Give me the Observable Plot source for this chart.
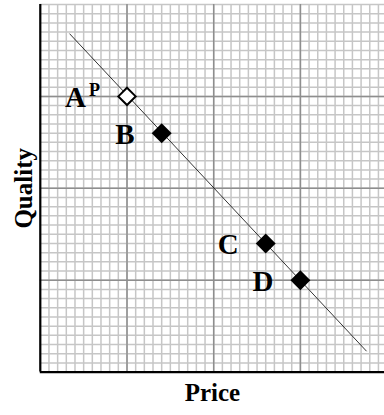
<!DOCTYPE html>
<html>
<head>
<meta charset="utf-8">
<script src="https://cdn.jsdelivr.net/npm/d3@7"></script>
<script src="https://cdn.jsdelivr.net/npm/@observablehq/plot@0.6"></script>
<style>
  html, body { margin: 0; padding: 0; background: #fff; }
  #chart svg { display: block; }
</style>
</head>
<body>
<div id="chart"></div>
<script>
// Data
const labels = ["A", "B", "C", "D"];
const superscripts = ["P", "", "", ""];
const price = [1.0, 1.4, 2.6, 3.0];
const quality = [3.0, 2.6, 1.4, 1.0];
const filled = [false, true, true, true];
const lineX = [0.34, 3.76];
const lineY = [3.68, 0.23];
const majorTicks = [0, 1, 2, 3, 4];
const xLabel = "Price";
const yLabel = "Quality";

const points = labels.map((l, i) => ({label: l, sup: superscripts[i], x: price[i], y: quality[i], filled: filled[i]}));
const lineData = lineX.map((x, i) => ({x, y: lineY[i]}));
const minorX = d3.range(0, 40).map(i => i / 10);
const minorY = d3.range(0, 41).map(i => i / 10);

const font = "Liberation Serif, Times New Roman, serif";
const withSup = points.filter(d => d.sup);
const noSup = points.filter(d => !d.sup);

const chart = Plot.plot({
  width: 384,
  height: 415,
  marginLeft: 39.8,
  marginRight: 0,
  marginTop: 4,
  marginBottom: 43.4,
  x: {domain: [0, 3.97], axis: null},
  y: {domain: [0, 4], axis: null},
  style: {fontFamily: font, background: "#fff"},
  marks: [
    Plot.ruleX(minorX, {stroke: "#c6c6c6", strokeWidth: 1.5}),
    Plot.ruleY(minorY, {stroke: "#c6c6c6", strokeWidth: 1.5}),
    Plot.ruleX(majorTicks.filter(d => d > 0 && d < 3.97), {stroke: "#8e8e8e", strokeWidth: 1.5}),
    Plot.ruleY(majorTicks.filter(d => d > 0 && d < 4), {stroke: "#8e8e8e", strokeWidth: 1.5}),
    Plot.ruleX([0], {stroke: "#000", strokeWidth: 2.2}),
    Plot.ruleY([0], {stroke: "#000", strokeWidth: 2.2}),
    Plot.line(lineData, {x: "x", y: "y", stroke: "#000", strokeWidth: 0.8}),
    Plot.dot(points.filter(d => !d.filled), {x: "x", y: "y", symbol: "diamond2", r: 7.8, fill: "#fff", stroke: "#000", strokeWidth: 2}),
    Plot.dot(points.filter(d => d.filled), {x: "x", y: "y", symbol: "diamond2", r: 9, fill: "#000", stroke: "none"}),
    Plot.text(noSup, {x: "x", y: "y", text: "label", textAnchor: "end", lineAnchor: "middle",
      dx: -27, dy: 1.2, fontSize: 29, fontWeight: "bold", fill: "#000"}),
    Plot.text(withSup, {x: "x", y: "y", text: "label", textAnchor: "end", lineAnchor: "middle",
      dx: -41, dy: 1.3, fontSize: 29, fontWeight: "bold", fill: "#000"}),
    Plot.text(withSup, {x: "x", y: "y", text: "sup", textAnchor: "end", lineAnchor: "middle",
      dx: -27, dy: -5.8, fontSize: 18, fontWeight: "bold", fill: "#000"}),
    Plot.text([xLabel], {frameAnchor: "bottom", text: d => d, textAnchor: "middle", lineAnchor: "bottom", dy: 28.4, fontSize: 25, fontWeight: "bold", fill: "#000"}),
    Plot.text([yLabel], {frameAnchor: "left", text: d => d, rotate: -90, textAnchor: "middle", lineAnchor: "bottom", dx: -8, fontSize: 25, fontWeight: "bold", fill: "#000"})
  ]
});
document.getElementById("chart").appendChild(chart);
</script>
</body>
</html>
